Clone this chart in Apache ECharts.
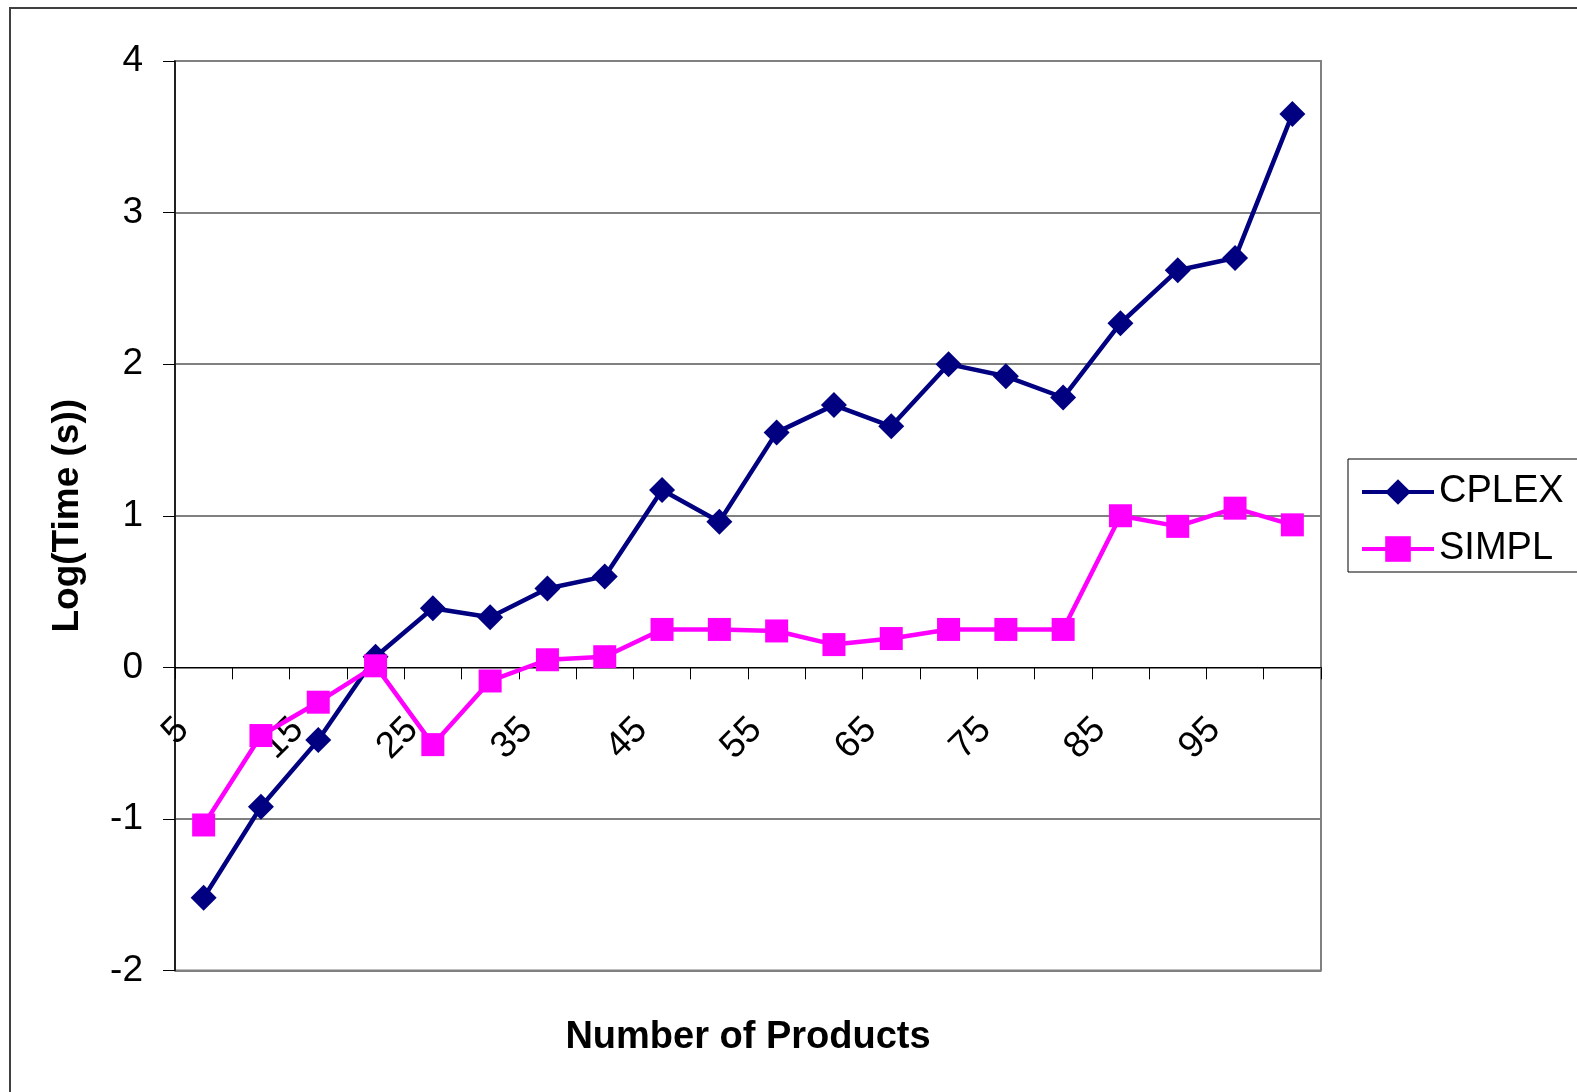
<!DOCTYPE html>
<html>
<head>
<meta charset="utf-8">
<script src="https://cdn.jsdelivr.net/npm/echarts@6/dist/echarts.min.js"></script>
<style>
html,body{margin:0;padding:0;background:#fff;}
#chart{width:1577px;height:1092px;}
</style>
</head>
<body>
<div id="chart"></div>
<script>
const categories = ['5','10','15','20','25','30','35','40','45','50','55','60','65','70','75','80','85','90','95','100'];
const cplex = [-1.52,-0.92,-0.48,0.07,0.39,0.33,0.52,0.60,1.17,0.96,1.55,1.73,1.59,2.00,1.92,1.78,2.27,2.62,2.70,3.65];
const simpl = [-1.04,-0.45,-0.23,0.01,-0.51,-0.09,0.05,0.07,0.25,0.25,0.24,0.15,0.19,0.25,0.25,0.25,1.00,0.93,1.05,0.94];
const yMin = -2, yMax = 4, yStep = 1;

const FONT = '"Liberation Sans", Arial, sans-serif';
const chart = echarts.init(document.getElementById('chart'));
chart.setOption({
  backgroundColor: '#ffffff',
  animation: false,
  graphic: [{
    type: 'rect',
    shape: {x: 10, y: 8, width: 1620, height: 1120},
    style: {fill: 'none', stroke: '#404040', lineWidth: 2},
    silent: true, z: -10
  }],
  grid: {
    left: 175, right: 256, top: 61, bottom: 121.5,
    containLabel: false, outerBoundsMode: 'none',
    show: true, borderColor: '#808080', borderWidth: 2, backgroundColor: 'transparent'
  },
  legend: {
    orient: 'vertical',
    left: 1348, top: 459,
    padding: [14, 60, 4, 12],
    borderColor: '#000', borderWidth: 1, backgroundColor: '#fff',
    itemWidth: 72, itemHeight: 32, itemGap: 19,
    lineStyle: {width: 4},
    textStyle: {fontFamily: FONT, fontSize: 38, color: '#000'},
    data: ['CPLEX', 'SIMPL']
  },
  xAxis: {
    type: 'category',
    data: categories,
    boundaryGap: true,
    name: 'Number of Products',
    nameLocation: 'middle',
    nameGap: 48,
    nameTextStyle: {fontFamily: FONT, fontSize: 38, fontWeight: 'bold', color: '#000'},
    axisLine: {onZero: true, lineStyle: {color: '#000', width: 1}},
    axisTick: {show: true, interval: 0, length: 12, alignWithLabel: false, lineStyle: {color: '#000', width: 1}},
    axisLabel: {
      interval: 1, rotate: 45, margin: -226,
      align: 'right', verticalAlign: 'bottom', lineHeight: 58,
      fontFamily: FONT, fontSize: 37, color: '#000'
    },
    splitLine: {show: false}
  },
  yAxis: {
    type: 'value',
    min: yMin, max: yMax, interval: yStep,
    name: 'Log(Time (s))',
    nameLocation: 'middle',
    nameGap: 89,
    nameTextStyle: {fontFamily: FONT, fontSize: 37, fontWeight: 'bold', color: '#000'},
    axisLine: {show: true, lineStyle: {color: '#000', width: 1.5}},
    axisTick: {show: true, length: 12, lineStyle: {color: '#000', width: 1}},
    axisLabel: {margin: 32, fontFamily: FONT, fontSize: 37, color: '#000'},
    splitLine: {show: true, lineStyle: {color: '#808080', width: 2}}
  },
  series: [
    {
      name: 'CPLEX', type: 'line', data: cplex,
      symbol: 'diamond', symbolSize: 26,
      lineStyle: {color: '#000080', width: 4.5},
      itemStyle: {color: '#000080'}
    },
    {
      name: 'SIMPL', type: 'line', data: simpl,
      symbol: 'rect', symbolSize: 23,
      lineStyle: {color: '#FF00FF', width: 4.5},
      itemStyle: {color: '#FF00FF'}
    }
  ]
});
</script>
</body>
</html>
